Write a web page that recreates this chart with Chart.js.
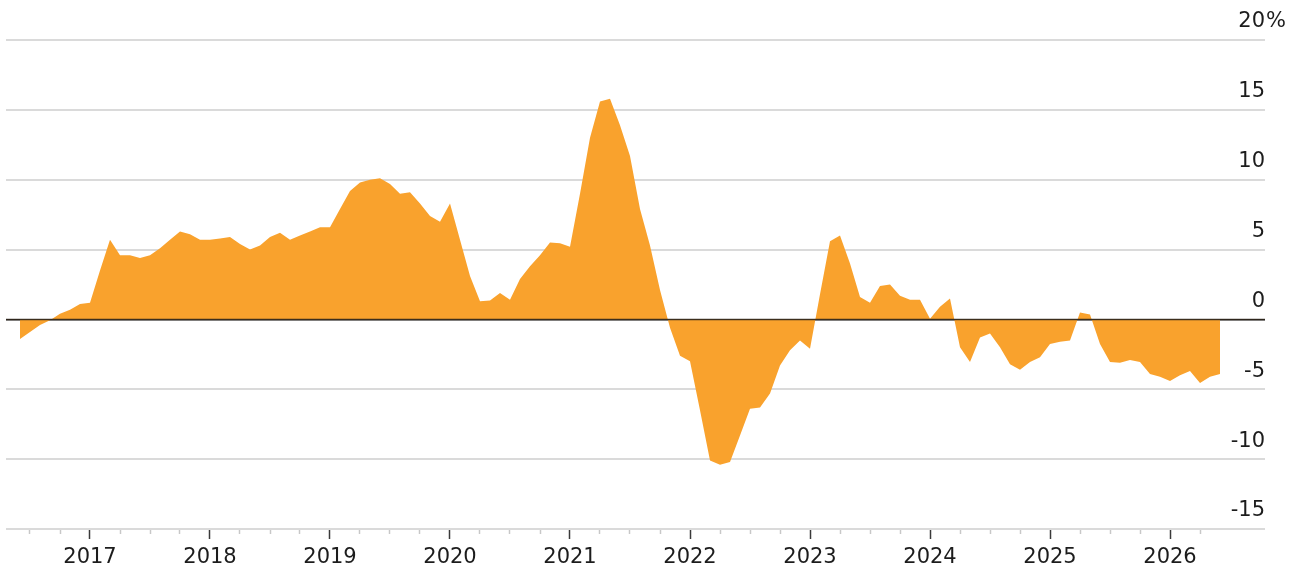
<!doctype html>
<html lang="en">
<head>
  <meta charset="utf-8">
  <title>chart</title>
  <style>
    body { margin: 0; background: #fff; }
    #wrap { width: 1289px; height: 570px; }
  </style>
</head>
<body>
  <div id="wrap"><canvas id="chart"></canvas></div>

  <script src="https://cdn.jsdelivr.net/npm/chart.js@4/dist/chart.umd.min.js"></script>
  <script>
  // months counted from Jan 2016 (0 = 2016-01); series starts 2016-06
  const startMonth = 5;
  const years = ['2017', '2018', '2019', '2020', '2021', '2022', '2023', '2024', '2025', '2026'];
  const yTicks = [-15, -10, -5, 0, 5, 10, 15, 20];

  const values = [
    // 2016 Jun-Dec
    -1.4, -0.9, -0.4, -0.05, 0.4, 0.7, 1.1,
    // 2017
    1.2, 3.5, 5.7, 4.6, 4.6, 4.4, 4.6, 5.1, 5.7, 6.3, 6.1, 5.7,
    // 2018
    5.7, 5.8, 5.9, 5.4, 5.0, 5.3, 5.9, 6.2, 5.7, 6.0, 6.3, 6.6,
    // 2019
    6.6, 7.9, 9.2, 9.8, 10.0, 10.1, 9.7, 9.0, 9.1, 8.3, 7.4, 7.0,
    // 2020
    8.3, 5.7, 3.1, 1.3, 1.35, 1.9, 1.4, 2.9, 3.8, 4.6, 5.5, 5.45,
    // 2021
    5.2, 9.0, 13.0, 15.6, 15.8, 13.9, 11.7, 7.9, 5.3, 2.1, -0.6, -2.6,
    // 2022
    -3.0, -6.5, -10.1, -10.4, -10.2, -8.3, -6.4, -6.3, -5.3, -3.3, -2.2, -1.5,
    // 2023
    -2.1, 1.8, 5.6, 6.0, 4.0, 1.6, 1.2, 2.4, 2.5, 1.7, 1.4, 1.4,
    // 2024
    0.05, 0.9, 1.5, -2.0, -3.05, -1.3, -1.0, -2.0, -3.2, -3.6, -3.05, -2.7,
    // 2025
    -1.75, -1.6, -1.5, 0.5, 0.35, -1.75, -3.05, -3.1, -2.9, -3.05, -3.9, -4.1,
    // 2026 Jan-Jun
    -4.4, -4.0, -3.7, -4.55, -4.1, -3.9
  ];

  const FONT = "'DejaVu Sans', 'Liberation Sans', Arial, sans-serif";
  const TEXT = '#1c1c1c';

  // quarterly tick marks from 2016-07 to 2026-04
  const tickMonths = [];
  for (let m = 6; m <= 123; m += 3) tickMonths.push(m);

  // zero line on top of the fill, and the % sign after the top label
  const extras = {
    id: 'extras',
    afterDatasetsDraw(chart) {
      const ctx = chart.ctx, y = chart.scales.y, area = chart.chartArea;
      const py = Math.round(y.getPixelForValue(0)) + 0.5;
      ctx.save();
      ctx.strokeStyle = 'rgba(45,35,25,0.85)';
      ctx.lineWidth = 1.5;
      ctx.beginPath();
      ctx.moveTo(area.left, py);
      ctx.lineTo(area.right, py);
      ctx.stroke();
      ctx.restore();
    },
    afterDraw(chart) {
      const ctx = chart.ctx, y = chart.scales.y, area = chart.chartArea;
      const top = yTicks[yTicks.length - 1];
      ctx.save();
      ctx.font = '21px ' + FONT;
      ctx.fillStyle = TEXT;
      ctx.textAlign = 'left';
      ctx.textBaseline = 'middle';
      ctx.fillText('%', area.right + 1, y.getPixelForValue(top) - 18);
      ctx.restore();
    }
  };

  new Chart(document.getElementById('chart'), {
    type: 'line',
    data: {
      datasets: [{
        data: values.map((v, i) => ({ x: startMonth + i, y: v })),
        fill: 'origin',
        backgroundColor: '#f9a22d',
        borderWidth: 0,
        pointRadius: 0,
        tension: 0
      }]
    },
    options: {
      responsive: true,
      maintainAspectRatio: false,
      animation: false,
      layout: { padding: { left: 6, right: 24, top: 40, bottom: 0 } },
      plugins: { legend: { display: false }, tooltip: { enabled: false } },
      scales: {
        x: {
          type: 'linear',
          min: 3.6,
          max: 129.5,
          afterBuildTicks: s => { s.ticks = tickMonths.map(v => ({ value: v })); },
          afterFit: s => { s.height = 41; },
          border: { display: false },
          grid: {
            drawOnChartArea: false,
            tickLength: 10,
            tickWidth: 1.5,
            tickColor: c => (c.tick && c.tick.value % 12 === 0) ? '#3a3a3a' : '#c8c8c8',
            tickBorderDash: c => (c.tick && c.tick.value % 12 === 0) ? [] : [5, 40]
          },
          ticks: {
            autoSkip: false,
            maxRotation: 0,
            padding: 6,
            color: TEXT,
            font: { family: FONT, size: 21 },
            callback: v => v % 12 === 0 ? years[v / 12 - 1] : ''
          }
        },
        y: {
          position: 'right',
          min: -15,
          max: 20,
          afterBuildTicks: s => { s.ticks = yTicks.map(v => ({ value: v })); },
          border: { display: false },
          grid: {
            drawTicks: false,
            color: c => c.tick.value === 0 ? '#333' : '#dadada',
            lineWidth: c => c.tick.value === 0 ? 1.5 : 2
          },
          ticks: {
            mirror: true,
            padding: 0,
            labelOffset: -18,
            color: TEXT,
            font: { family: FONT, size: 21 },
            callback: v => String(v)
          }
        }
      }
    },
    plugins: [extras]
  });
  </script>
</body>
</html>
